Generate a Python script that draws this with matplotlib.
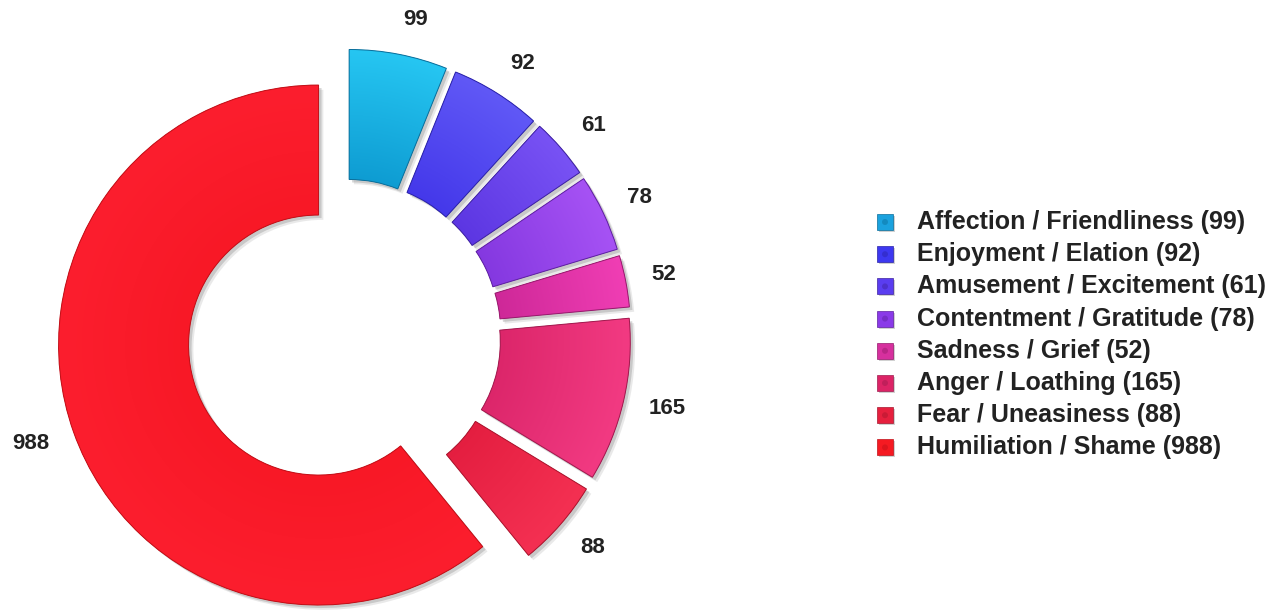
import numpy as np
import matplotlib
matplotlib.use("Agg")
import matplotlib.pyplot as plt
from matplotlib.patches import Wedge, Rectangle, Circle
from matplotlib.colors import to_rgb

# ---- data ----
categories = ["Affection / Friendliness", "Enjoyment / Elation", "Amusement / Excitement",
              "Contentment / Gratitude", "Sadness / Grief", "Anger / Loathing",
              "Fear / Uneasiness", "Humiliation / Shame"]
values = [99, 92, 61, 78, 52, 165, 88, 988]

# ---- styles ----
base_colors = ["#19B0E2", "#5048EE", "#6A42EA", "#9444EA", "#E034A6", "#E82E76", "#EE2648", "#FA1B2A"]
inner_colors = ["#0E9CD2", "#4438EA", "#5C36E2", "#8438E0", "#CE2898", "#DC266A", "#E41E40", "#F81826"]
outer_colors = ["#26C6F2", "#6058F6", "#7852F4", "#A652F4", "#F03EB4", "#F23A82", "#F43052", "#FC1E2E"]
edge_colors = ["#0B6E9A", "#2A22A8", "#3E22A0", "#5E20A0", "#961A6C", "#A01A4E", "#A8162E", "#C01018"]
legend_colors = ["#1BA2DE", "#3D38F0", "#5A3DF0", "#8A3AE8", "#D6309E", "#DC2466", "#E6203E", "#F51A22"]

W, H = 1283, 610
S = 260.0  # pixels per unit of radius

fig = plt.figure(figsize=(W / 100, H / 100), dpi=100)
fig.patch.set_facecolor("white")
ax = fig.add_axes([0, 0, 1, 1])


def P(x, y):
    return (x / S, (H - y) / S)


C = P(344, 336)
explode = [27 / S] * len(values)

wedges, _ = ax.pie(values, radius=1.0, center=C, startangle=90, counterclock=False,
                   explode=explode, colors=base_colors,
                   wedgeprops=dict(width=0.5, linewidth=0))

ax.set_xlim(0, W / S)
ax.set_ylim(0, H / S)
ax.set_aspect("equal")
ax.axis("off")

sdx, sdy = 3 / S, -3 / S
for i, w in enumerate(wedges):
    cx, cy = w.center
    r, wd = w.r, w.width
    t1, t2 = w.theta1, w.theta2
    # shadow
    for off, a in [(1.0, 0.35), (1.6, 0.18)]:
        sh = Wedge((cx + sdx * off, cy + sdy * off), r, t1, t2, width=wd,
                   facecolor="#8a8a8a", edgecolor="none", alpha=a, zorder=0.5)
        ax.add_patch(sh)
    w.set_zorder(1)
    # radial gradient fill
    n = 200
    xs = np.linspace(cx - r, cx + r, n)
    ys = np.linspace(cy - r, cy + r, n)
    X, Y = np.meshgrid(xs, ys)
    d = np.hypot(X - cx, Y - cy)
    t = np.clip((d - (r - wd)) / wd, 0, 1)[..., None]
    c0 = np.array(to_rgb(inner_colors[i]))
    c1 = np.array(to_rgb(outer_colors[i]))
    img = c0 + t * (c1 - c0)
    im = ax.imshow(img, extent=[cx - r, cx + r, cy - r, cy + r], origin="lower",
                   interpolation="bilinear", zorder=1.5)
    im.set_clip_path(w)
    outline = Wedge((cx, cy), r, t1, t2, width=wd, facecolor="none",
                    edgecolor=edge_colors[i], linewidth=0.7, zorder=2)
    ax.add_patch(outline)

    # value label
    tm = np.deg2rad(0.5 * (t1 + t2))
    lr = 313 / S
    ux, uy = np.cos(tm), np.sin(tm)
    ax.text(C[0] + lr * ux, C[1] + lr * uy + (9 / S) * uy, str(values[i]),
            ha="left" if ux >= 0 else "right", va="center",
            fontsize=16, fontweight="bold",
            family="Liberation Sans", color="#222222", zorder=3)

# ---- legend ----
row0, dy = 222, 32.2
for i, (cat, val) in enumerate(zip(categories, values)):
    yc = row0 + i * dy
    sz = 16
    x0 = 877
    shadow = Rectangle(P(x0 + 2, yc + sz / 2 + 2), sz / S, sz / S, facecolor="#9a9a9a",
                       alpha=0.45, edgecolor="none", zorder=2)
    ax.add_patch(shadow)
    sq = Rectangle(P(x0, yc + sz / 2), sz / S, sz / S, facecolor=legend_colors[i],
                   edgecolor=edge_colors[i], linewidth=0.5, zorder=3)
    ax.add_patch(sq)
    dot = Circle(P(x0 + sz / 2, yc), 3 / S, facecolor=edge_colors[i], alpha=0.45,
                 edgecolor="none", zorder=4)
    ax.add_patch(dot)
    ax.text(*P(917, yc), f"{cat} ({val})", ha="left", va="center", fontsize=18,
            fontweight="bold", family="Liberation Sans", color="#222222", zorder=3)

fig.savefig("out.png", dpi=100, facecolor="white")
